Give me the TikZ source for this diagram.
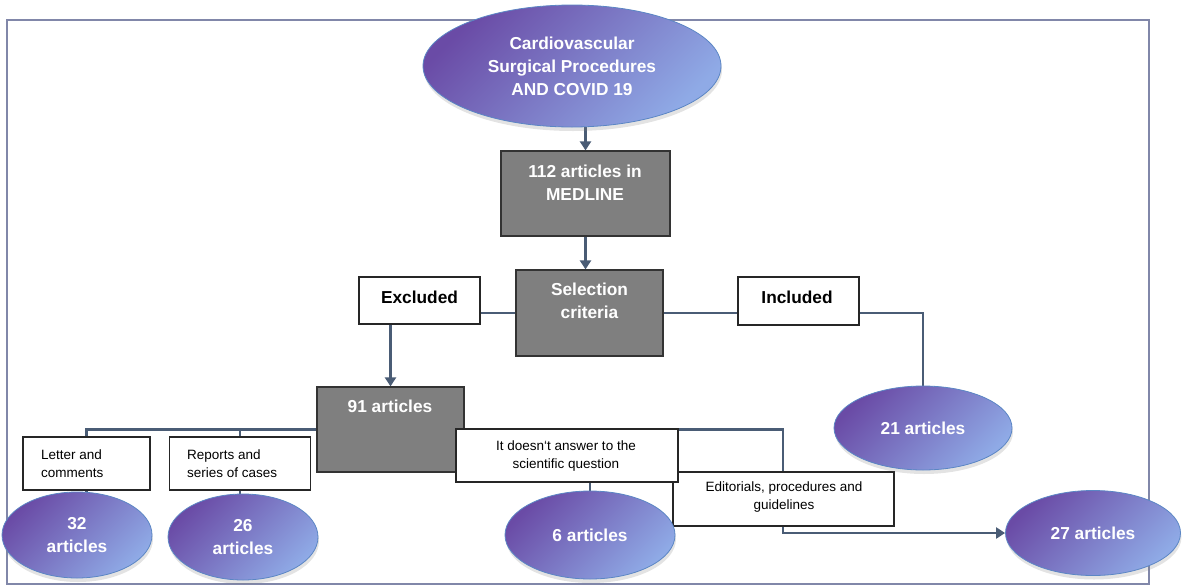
\documentclass[tikz,border=0pt]{standalone}
\usepackage{fontspec}
\setmainfont{Liberation Sans}
\usetikzlibrary{shapes.geometric,arrows.meta,shadows}
\definecolor{conncol}{HTML}{4A5C75}
\definecolor{framecol}{HTML}{8187A9}
\definecolor{boxgray}{HTML}{7F7F7F}
\definecolor{ellA}{HTML}{6A4BA6}
\definecolor{ellB}{HTML}{8FAAE6}
\definecolor{ellline}{HTML}{5B86C4}
\pgfdeclarelayer{bg}
\pgfsetlayers{bg,main}
\tikzset{
  conn/.style={draw=conncol, line width=2.2pt},
  arr/.style={conn, -{Triangle[width=11pt,length=9pt]}},
  darkbox/.style={rectangle, draw=black!80, line width=1.2pt, fill=boxgray, inner sep=0pt},
  wbox/.style={rectangle, draw=black!85, line width=1.1pt, fill=white, inner sep=0pt},
  bigtxt/.style={font=\fontsize{17.3}{23}\selectfont\bfseries, align=center, inner sep=0pt},
  wtxt/.style={bigtxt, text=white},
  smalltxt/.style={font=\fontsize{13.5}{18}\selectfont, inner sep=0pt},
  oval/.style={ellipse, draw=ellline, line width=0.8pt, top color=ellA, bottom color=ellB,
    shading angle=45, text=white, font=\fontsize{17.3}{23}\selectfont\bfseries,
    align=center, inner sep=0pt,
    drop shadow={shadow xshift=1pt, shadow yshift=-4pt, opacity=0.22}},
}
\begin{document}
\begin{tikzpicture}[x=1pt,y=-1pt]
\useasboundingbox (0,0) rectangle (1187,587);

% top ellipse and gray boxes
\node[oval, minimum width=298, minimum height=122] (top) at (572,66)
  {Cardiovascular\\Surgical Procedures\\AND COVID 19};
\node[darkbox, minimum width=169, minimum height=85] (m112) at (585.5,193.5) {};
\node[wtxt] (t112) at (585,182.5) {112 articles in\\MEDLINE};
\node[darkbox, minimum width=147, minimum height=86] (sel) at (589.5,313) {};
\node[wtxt] (tsel) at (589.5,301) {Selection\\criteria};
\node[wbox, minimum width=121, minimum height=47] (exc) at (419.5,300.5) {};
\node[bigtxt] (texc) at (419.5,297) {Excluded};
\node[wbox, minimum width=121, minimum height=48] (inc) at (798.5,301) {};
\node[bigtxt] (tinc) at (797,297) {Included};
\node[darkbox, minimum width=147, minimum height=85] (m91) at (390.5,429.5) {};
\node[wtxt] (t91) at (390,406) {91 articles};

% white boxes of reasons
\node[wbox, minimum width=127, minimum height=53] (let) at (86.5,463.5) {};
\node[smalltxt, align=left, anchor=west] (tlet) at (41,464) {Letter and\\comments};
\node[wbox, minimum width=141, minimum height=53] (rep) at (240,463.5) {};
\node[smalltxt, align=left, anchor=west] (trep) at (187,464) {Reports and\\series of cases};
\node[wbox, minimum width=221, minimum height=54] (edt) at (783.5,499) {};
\node[smalltxt, align=center] (tedt) at (784,497.5) {Editorials, procedures and\\guidelines};
\node[wbox, minimum width=222, minimum height=53] (q) at (567,455.5) {};
\node[smalltxt, align=center] (tq) at (566,456.5) {It doesn{\char"60}t answer to the\\scientific question};

% result ellipses
\node[oval, minimum width=150, minimum height=86] (e32) at (77,535) {32\\articles};
\node[oval, minimum width=150, minimum height=86] (e26) at (243,537) {26\\articles};
\node[oval, minimum width=170, minimum height=88] (e6) at (590,535) {6 articles};
\node[oval, minimum width=178, minimum height=84] (e21) at (923,428) {21 articles};
\node[oval, minimum width=175, minimum height=85] (e27) at (1093,533) {27 articles};

\coordinate (rc) at (783,430);

\begin{pgfonlayer}{bg}
  \draw[framecol, line width=2pt] (7,20) rectangle (1149,584);
  \draw[arr] (top.south -| m112.north) -- (m112.north);
  \draw[arr] (m112.south) -- (m112.south |- sel.north);
  \draw[conn] (exc.east |- sel.west) -- (sel.west);
  \draw[conn] (sel.east) -- (sel.east -| inc.west);
  \draw[conn] (inc.east |- sel.east) -| (e21.north);
  \draw[arr] (m91.north |- exc.south) -- (m91.north);
  \draw[conn] (m91.west) -| (let.north);
  \draw[conn] (rep.north) -- (rep.north |- m91.west);
  \draw[arr] (m91.east) -- (m91.east -| rc) |- (e27.west);
  \draw[conn] (let.south) -- (let.south |- e32.north);
  \draw[conn] (rep.south) -- (rep.south |- e26.north);
  \draw[conn] (q.south -| e6.north) -- (e6.north);
\end{pgfonlayer}
\end{tikzpicture}
\end{document}
